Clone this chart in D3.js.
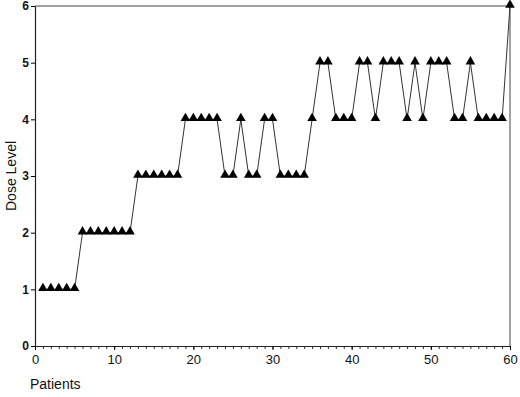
<!DOCTYPE html>
<html>
<head>
<meta charset="utf-8">
<script src="https://cdn.jsdelivr.net/npm/d3@7"></script>
<style>
  body { margin: 0; background: #fff; }
  svg { display: block; font-family: "Liberation Sans", Arial, sans-serif; }
</style>
</head>
<body>
<div id="chart"></div>
<script>
// dose level per patient (patients 1..60)
const patients = d3.range(1, 61);
const doseLevels = [
  1, 1, 1, 1, 1,
  2, 2, 2, 2, 2, 2, 2,
  3, 3, 3, 3, 3, 3,
  4, 4, 4, 4, 4,
  3, 3, 4, 3, 3, 4, 4,
  3, 3, 3, 3, 4,
  5, 5, 4, 4, 4,
  5, 5, 4, 5, 5, 5, 4, 5, 4,
  5, 5, 5, 4, 4, 5,
  4, 4, 4, 4, 6
];
const xTicks = [0, 10, 20, 30, 40, 50, 60];
const yTicks = [0, 1, 2, 3, 4, 5, 6];

const width = 520;
const height = 397;
const margin = { top: 6, right: 10, bottom: 51, left: 35 };

const svg = d3.select("#chart").append("svg")
    .attr("width", width)
    .attr("height", height);

const x = d3.scaleLinear()
    .domain([0, 60])
    .range([margin.left, width - margin.right]);

const y = d3.scaleLinear()
    .domain([0, 6])
    .range([height - margin.bottom, margin.top]);

const points = patients.map((p, i) => ({ patient: p, dose: doseLevels[i] }));

// frame (top and right)
svg.append("path")
    .attr("d", `M${x(0)},${y(6)}H${x(60)}V${y(0)}`)
    .attr("fill", "none")
    .attr("stroke", "#444")
    .attr("stroke-width", 1);

// x axis with unit minor ticks
const xMinor = svg.append("g")
    .attr("transform", `translate(0,${y(0)})`)
    .call(d3.axisBottom(x).tickValues(d3.range(0, 61)).tickSize(3).tickFormat(""));
xMinor.select(".domain").remove();
xMinor.selectAll("line").attr("stroke", "#333");

const xAxis = svg.append("g")
    .attr("transform", `translate(0,${y(0)})`)
    .call(d3.axisBottom(x).tickValues(xTicks).tickSize(4).tickSizeOuter(0).tickFormat(d3.format("d")));
xAxis.select(".domain").attr("stroke", "#222").attr("stroke-width", 1.2);
xAxis.selectAll("text")
    .attr("font-size", 13)
    .attr("fill", "#111")
    .attr("dy", "0.85em");

// y axis
const yAxis = svg.append("g")
    .attr("transform", `translate(${x(0)},0)`)
    .call(d3.axisLeft(y).tickValues(yTicks).tickSize(4).tickSizeOuter(0).tickFormat(d3.format("d")));
yAxis.select(".domain").attr("stroke", "#222").attr("stroke-width", 1.2);
yAxis.selectAll("text")
    .attr("font-size", 12)
    .attr("font-weight", "bold")
    .attr("fill", "#111")
    .attr("x", -6);

// axis titles
svg.append("text")
    .attr("x", 30)
    .attr("y", 389)
    .attr("font-size", 14)
    .attr("fill", "#111")
    .text("Patients");

svg.append("text")
    .attr("transform", `translate(16,${y(3)}) rotate(-90)`)
    .attr("text-anchor", "middle")
    .attr("font-size", 14)
    .attr("fill", "#111")
    .text("Dose Level");

// connecting line
svg.append("path")
    .datum(points)
    .attr("fill", "none")
    .attr("stroke", "#333")
    .attr("stroke-width", 1)
    .attr("d", d3.line()
        .x(d => x(d.patient))
        .y(d => y(d.dose)));

// triangle markers
svg.append("g")
    .selectAll("path")
    .data(points)
    .join("path")
    .attr("transform", d => `translate(${x(d.patient)},${y(d.dose) - 1})`)
    .attr("d", d3.symbol(d3.symbolTriangle, 40))
    .attr("fill", "#000");
</script>
</body>
</html>
